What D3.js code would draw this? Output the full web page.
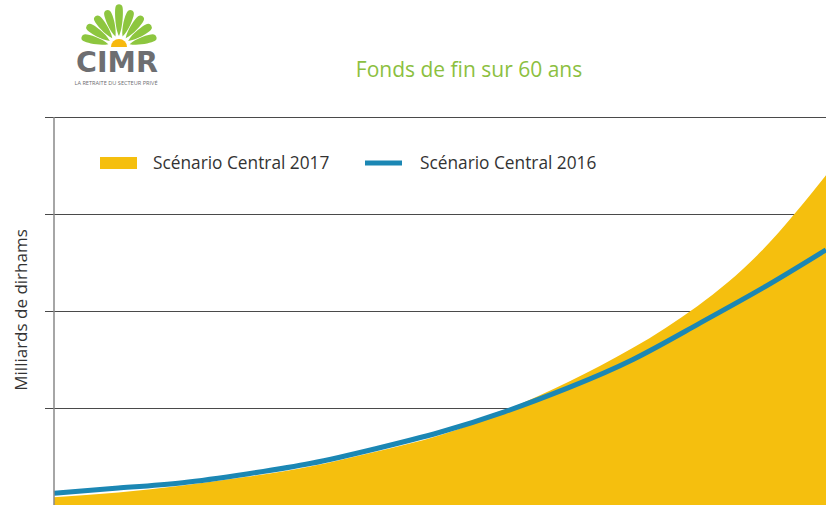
<!DOCTYPE html>
<html lang="fr">
<head>
<meta charset="UTF-8">
<title>Fonds de fin sur 60 ans</title>
<style>
  body { margin: 0; background: #fff; }
  svg text { font-family: "Open Sans", Lato, sans-serif; }
</style>
</head>
<body>
<div id="chart"></div>
<script src="https://d3js.org/d3.v7.min.js"></script>
<script>
// data (no tick labels, values in gridline units)
var annees = [0, 5, 10, 15, 20, 25, 30, 35, 40, 45, 50, 55, 60];
var fonds2017 = [0.08, 0.13, 0.20, 0.29, 0.40, 0.55, 0.72, 0.97, 1.27, 1.62, 2.05, 2.62, 3.40];
var fonds2016 = [0.12, 0.175, 0.23, 0.32, 0.43, 0.58, 0.75, 0.96, 1.21, 1.50, 1.86, 2.23, 2.63];
var gridTicks = [1, 2, 3, 4];
var legendLabels = ["Scénario Central 2017", "Scénario Central 2016"];

var W = 826, H = 505;
var svg = d3.select("#chart").append("svg")
    .attr("width", W).attr("height", H);

var x = d3.scaleLinear().domain([0, 60]).range([54, 826]);
var y = d3.scaleLinear().domain([0, 4]).range([505, 117]);

// gridlines
var grid = d3.axisLeft(y).tickValues(gridTicks).tickSize(-(826 - 45)).tickFormat("");
svg.append("g")
    .attr("transform", "translate(45,0)")
    .call(grid)
    .call(function(g) {
      g.select(".domain").remove();
      g.selectAll("line").attr("stroke", "#4a4a4a").attr("stroke-width", 1.2);
    });

// area 2017
var area = d3.area()
    .x(function(d, i) { return x(annees[i]); })
    .y0(y(0))
    .y1(function(d) { return y(d); })
    .curve(d3.curveNatural);
svg.append("path")
    .datum(fonds2017)
    .attr("fill", "#F5BF0E")
    .attr("d", area);

// line 2016
var line = d3.line()
    .x(function(d, i) { return x(annees[i]); })
    .y(function(d) { return y(d); })
    .curve(d3.curveNatural);
svg.append("path")
    .datum(fonds2016)
    .attr("fill", "none")
    .attr("stroke", "#1B87B4")
    .attr("stroke-width", 5)
    .attr("d", line);

// y axis line
svg.append("line")
    .attr("x1", 54).attr("x2", 54)
    .attr("y1", y(4)).attr("y2", y(0))
    .attr("stroke", "#888").attr("stroke-width", 1.5);

// y label
svg.append("text")
    .attr("transform", "translate(27,310) rotate(-90)")
    .attr("text-anchor", "middle")
    .attr("font-size", 17)
    .attr("fill", "#333")
    .text("Milliards de dirhams");

// title
svg.append("text")
    .attr("x", 469).attr("y", 77)
    .attr("text-anchor", "middle")
    .attr("font-size", 21)
    .attr("fill", "#8CBF3F")
    .text("Fonds de fin sur 60 ans");

// legend
var lg = svg.append("g");
lg.append("rect")
    .attr("x", 100).attr("y", 157).attr("width", 37).attr("height", 12)
    .attr("fill", "#F5BF0E");
lg.append("text")
    .attr("x", 153).attr("y", 169)
    .attr("font-size", 17.3).attr("fill", "#333")
    .text(legendLabels[0]);
lg.append("line")
    .attr("x1", 365).attr("x2", 402).attr("y1", 163).attr("y2", 163)
    .attr("stroke", "#1B87B4").attr("stroke-width", 5);
lg.append("text")
    .attr("x", 420).attr("y", 169)
    .attr("font-size", 17.3).attr("fill", "#333")
    .text(legendLabels[1]);

// logo
var logo = svg.append("g");
var cx = 119, cy = 47;
var petalAngles = d3.range(9).map(function(i) { return -165 + i * 18.75; });
petalAngles.forEach(function(a) {
  var len = Math.abs(a + 90) < 10 ? 42 : 38;
  var r0 = 11;
  logo.append("path")
      .attr("transform", "translate(" + cx + "," + cy + ") rotate(" + a + ")")
      .attr("d", "M" + r0 + ",0 C" + (r0 + 8) + ",-4 " + (len - 6) + ",-4.5 " + (len - 2) + ",-3.5"
          + " A3.6,3.6 0 0 1 " + (len - 2) + ",3.5 C" + (len - 6) + ",4.5 " + (r0 + 8) + ",4 " + r0 + ",0Z")
      .attr("fill", "#8DC63F");
});
logo.append("path")
    .attr("d", d3.arc()({innerRadius: 0, outerRadius: 8, startAngle: -Math.PI / 2, endAngle: Math.PI / 2}))
    .attr("transform", "translate(" + cx + "," + cy + ")")
    .attr("fill", "#F7B90F");
logo.append("text")
    .attr("x", 117).attr("y", 72)
    .attr("text-anchor", "middle")
    .attr("font-size", 28.5).attr("font-weight", 700)
    .attr("fill", "#6D6E71")
    .style("font-family", "'DejaVu Sans', sans-serif")
    .text("CIMR");
logo.append("text")
    .attr("x", 116).attr("y", 85)
    .attr("text-anchor", "middle")
    .attr("font-size", 5.6)
    .attr("fill", "#6D6E71")
    .text("LA RETRAITE DU SECTEUR PRIVÉ");
</script>
</body>
</html>
